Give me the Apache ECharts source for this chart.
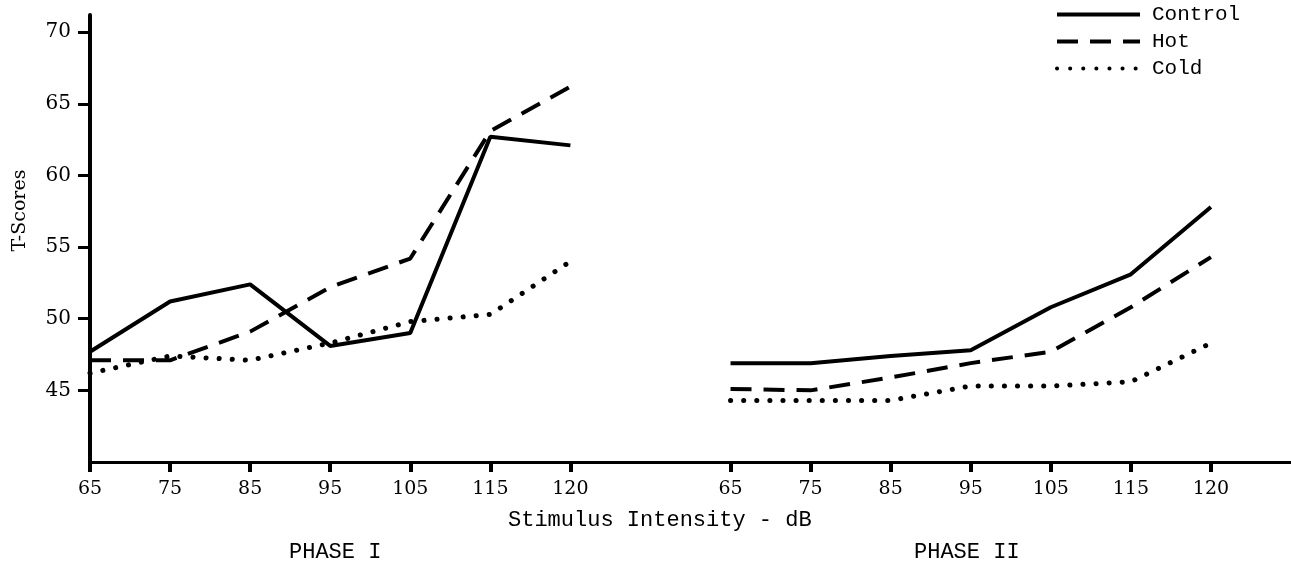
<!DOCTYPE html>
<html>
<head>
<meta charset="utf-8">
<script src="https://cdn.jsdelivr.net/npm/echarts@6/dist/echarts.min.js"></script>
<style>
  html, body { margin: 0; padding: 0; background: #fff; }
  #chart { width: 1291px; height: 564px; }
</style>
</head>
<body>
<div id="chart"></div>
<script>
// stimulus levels, same for both phases
var dbLevels = ['65', '75', '85', '95', '105', '115', '120'];
var yTicks = [45, 50, 55, 60, 65, 70];

// T-scores, phase I
var p1Control = [47.7, 51.2, 52.4, 48.1, 49.0, 62.7, 62.1];
var p1Hot     = [47.1, 47.1, 49.1, 52.2, 54.2, 63.1, 66.2];
var p1Cold    = [46.2, 47.4, 47.1, 48.3, 49.8, 50.3, 54.0];
// T-scores, phase II
var p2Control = [46.9, 46.9, 47.4, 47.8, 50.8, 53.1, 57.8];
var p2Hot     = [45.1, 45.0, 45.9, 46.9, 47.7, 50.8, 54.3];
var p2Cold    = [44.3, 44.3, 44.3, 45.3, 45.3, 45.6, 48.3];

// one shared axis: phase I, a blank slot, phase II, a blank slot at the end
var cats = dbLevels.concat(['']).concat(dbLevels).concat(['']);
function joinPhases(a, b){
	return a.concat([null]).concat(b).concat([null]);
}

var serif = 'DejaVu Serif';
var mono = 'Liberation Mono';

var chart = echarts.init(document.getElementById('chart'));
var option = {
	animation: false,
	backgroundColor: '#fff',
	grid: { left: 90, right: 0, top: 15, bottom: 102, containLabel: false, outerBoundsMode: 'none' },
	legend: {
		orient: 'vertical',
		left: 1055,
		top: 4,
		padding: 0,
		itemWidth: 83,
		itemHeight: 21,
		itemGap: 6,
		itemStyle: { color: 'transparent', borderWidth: 0 },
		lineStyle: { width: 4 },
		textStyle: { fontFamily: mono, fontSize: 21, color: '#000', padding: [0, 0, 0, 7] },
		data: ['Control', 'Hot', 'Cold']
	},
	xAxis: {
		type: 'category',
		boundaryGap: false,
		data: cats,
		axisLine: { lineStyle: { color: '#000', width: 3 } },
		axisTick: {
			length: 10,
			interval: function(i, v){ return v !== ''; },
			lineStyle: { color: '#000', width: 4 }
		},
		axisLabel: {
			interval: 0,
			margin: 18,
			fontFamily: serif,
			fontSize: 19,
			color: '#000'
		},
		splitLine: { show: false }
	},
	yAxis: {
		type: 'value',
		min: 40,
		max: 71.2,
		name: 'T-Scores',
		nameLocation: 'middle',
		nameGap: 60,
		nameRotate: 90,
		nameTextStyle: { fontFamily: serif, fontSize: 19, color: '#000', padding: [0, 0, 0, 56] },
		axisLine: { show: true, lineStyle: { color: '#000', width: 4 } },
		axisTick: { show: true, length: 12, customValues: yTicks, lineStyle: { color: '#000', width: 3 } },
		axisLabel: { margin: 19, customValues: yTicks, fontFamily: serif, fontSize: 20, color: '#000' },
		splitLine: { show: false }
	},
	graphic: [
		{ type: 'text', left: 508, top: 509, style: { text: 'Stimulus Intensity - dB', font: '22px "Liberation Mono"', fill: '#000' } },
		{ type: 'text', left: 289, top: 541, style: { text: 'PHASE I', font: '22px "Liberation Mono"', fill: '#000' } },
		{ type: 'text', left: 914, top: 541, style: { text: 'PHASE II', font: '22px "Liberation Mono"', fill: '#000' } }
	],
	series: [
		{
			name: 'Control', type: 'line', symbol: 'none',
			itemStyle: { color: '#000' },
			lineStyle: { color: '#000', width: 4, type: 'solid' },
			data: joinPhases(p1Control, p2Control)
		},
		{
			name: 'Hot', type: 'line', symbol: 'none',
			itemStyle: { color: '#000' },
			lineStyle: { color: '#000', width: 4, type: [21, 12] },
			data: joinPhases(p1Hot, p2Hot)
		},
		{
			name: 'Cold', type: 'line', symbol: 'none',
			itemStyle: { color: '#000' },
			lineStyle: { color: '#000', width: 5, type: [0.1, 13], cap: 'round' },
			data: joinPhases(p1Cold, p2Cold)
		}
	]
};
chart.setOption(option);
</script>
</body>
</html>
